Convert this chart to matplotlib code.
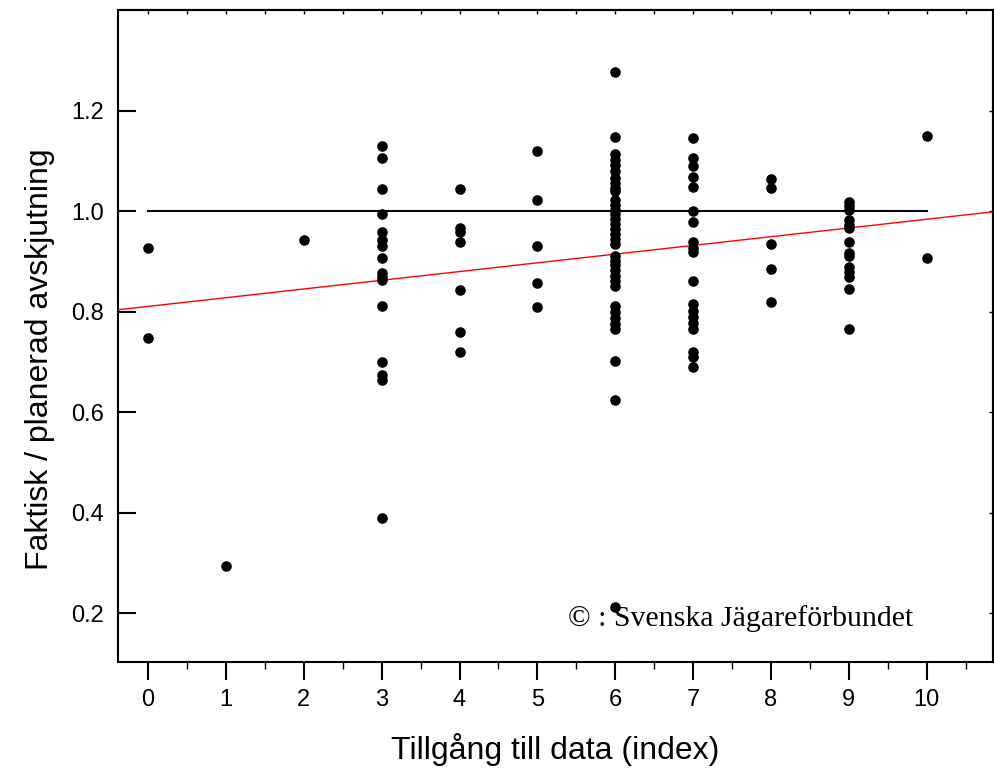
import numpy as np
import matplotlib
matplotlib.use("Agg")
import matplotlib.pyplot as plt
from matplotlib.ticker import MultipleLocator

# values, one list per index value
col_0 = [0.927, 0.748]
col_1 = [0.294]
col_2 = [0.943]
col_3 = [1.130, 1.106, 1.045, 0.995, 0.958, 0.943, 0.931, 0.907, 0.877,
         0.869, 0.863, 0.812, 0.700, 0.675, 0.664, 0.390]
col_4 = [1.045, 0.966, 0.958, 0.938, 0.843, 0.760, 0.719]
col_5 = [1.120, 1.022, 0.932, 0.857, 0.810]
col_6 = [1.278, 1.149, 1.115, 1.103, 1.092, 1.081, 1.067, 1.057, 1.047,
         1.040, 1.022, 1.012, 1.003, 0.995, 0.985, 0.975, 0.965, 0.955,
         0.945, 0.935, 0.912, 0.902, 0.893, 0.883, 0.872, 0.862, 0.852,
         0.812, 0.800, 0.787, 0.775, 0.765, 0.702, 0.624, 0.212]
col_7 = [1.146, 1.106, 1.091, 1.069, 1.048, 1.001, 0.978, 0.938, 0.928,
         0.919, 0.862, 0.816, 0.802, 0.790, 0.777, 0.765, 0.719, 0.709, 0.691]
col_8 = [1.064, 1.047, 0.935, 0.885, 0.820]
col_9 = [1.019, 1.011, 1.003, 0.983, 0.973, 0.966, 0.938, 0.917, 0.911,
         0.890, 0.880, 0.870, 0.845, 0.765]
col_10 = [1.151, 0.908]

columns = [col_0, col_1, col_2, col_3, col_4, col_5, col_6, col_7, col_8, col_9, col_10]

yticks = [0.2, 0.4, 0.6, 0.8, 1.0, 1.2]
ytick_labels = ['0.2', '0.4', '0.6', '0.8', '1.0', '1.2']

# red trend line
trend_intercept = 0.8107
trend_slope = 0.01736

xs = []
ys = []
for i, col in enumerate(columns):
    xs += [i] * len(col)
    ys += col

plt.rcParams['font.family'] = ['Liberation Sans', 'DejaVu Sans']

fig = plt.figure(figsize=(9.94, 7.70), dpi=100)
ax = fig.add_axes([0.1187, 0.1399, 0.8803, 0.8471])

xmin, xmax = -0.385, 10.85
ax.set_xlim(xmin, xmax)
ax.set_ylim(0.102, 1.401)

ax.plot([0, 10], [1.0, 1.0], color='black', lw=1.5, zorder=2)
tx = np.array([xmin, xmax])
ax.plot(tx, trend_intercept + trend_slope * tx, color='red', lw=1.0, zorder=3)
ax.scatter(xs, ys, s=58, color='black', zorder=4, linewidths=0)

ax.xaxis.set_major_locator(MultipleLocator(1))
ax.xaxis.set_minor_locator(MultipleLocator(0.5))
ax.set_yticks(yticks)
ax.set_yticklabels(ytick_labels)

ax.tick_params(axis='x', which='major', direction='out', length=13, width=1.5,
               labelsize=17, pad=6)
ax.tick_params(axis='x', which='minor', direction='out', length=5, width=1.0)
ax.tick_params(axis='y', which='major', direction='in', length=13, width=1.5,
               labelsize=17, pad=10)

# small inward marks on top and right
top = ax.secondary_xaxis('top')
top.xaxis.set_major_locator(MultipleLocator(0.5))
top.tick_params(direction='in', length=3, width=1.0, labeltop=False)
right = ax.secondary_yaxis('right')
right.set_yticks(yticks)
right.tick_params(direction='in', length=3, width=1.0, labelright=False)

for s in ax.spines.values():
    s.set_linewidth(1.5)
top.spines['top'].set_linewidth(1.5)
right.spines['right'].set_linewidth(1.5)

ax.set_xlabel('Tillgång till data (index)', fontsize=23, labelpad=16)
ax.set_ylabel('Faktisk / planerad avskjutning', fontsize=23)
ax.yaxis.set_label_coords(-0.072, 0.465)

ax.text(0.514, 0.056, '© : Svenska Jägareförbundet', transform=ax.transAxes,
        fontsize=21.5, family=['Liberation Serif', 'DejaVu Serif'], ha='left', va='baseline')

fig.savefig('out.png', dpi=100)
